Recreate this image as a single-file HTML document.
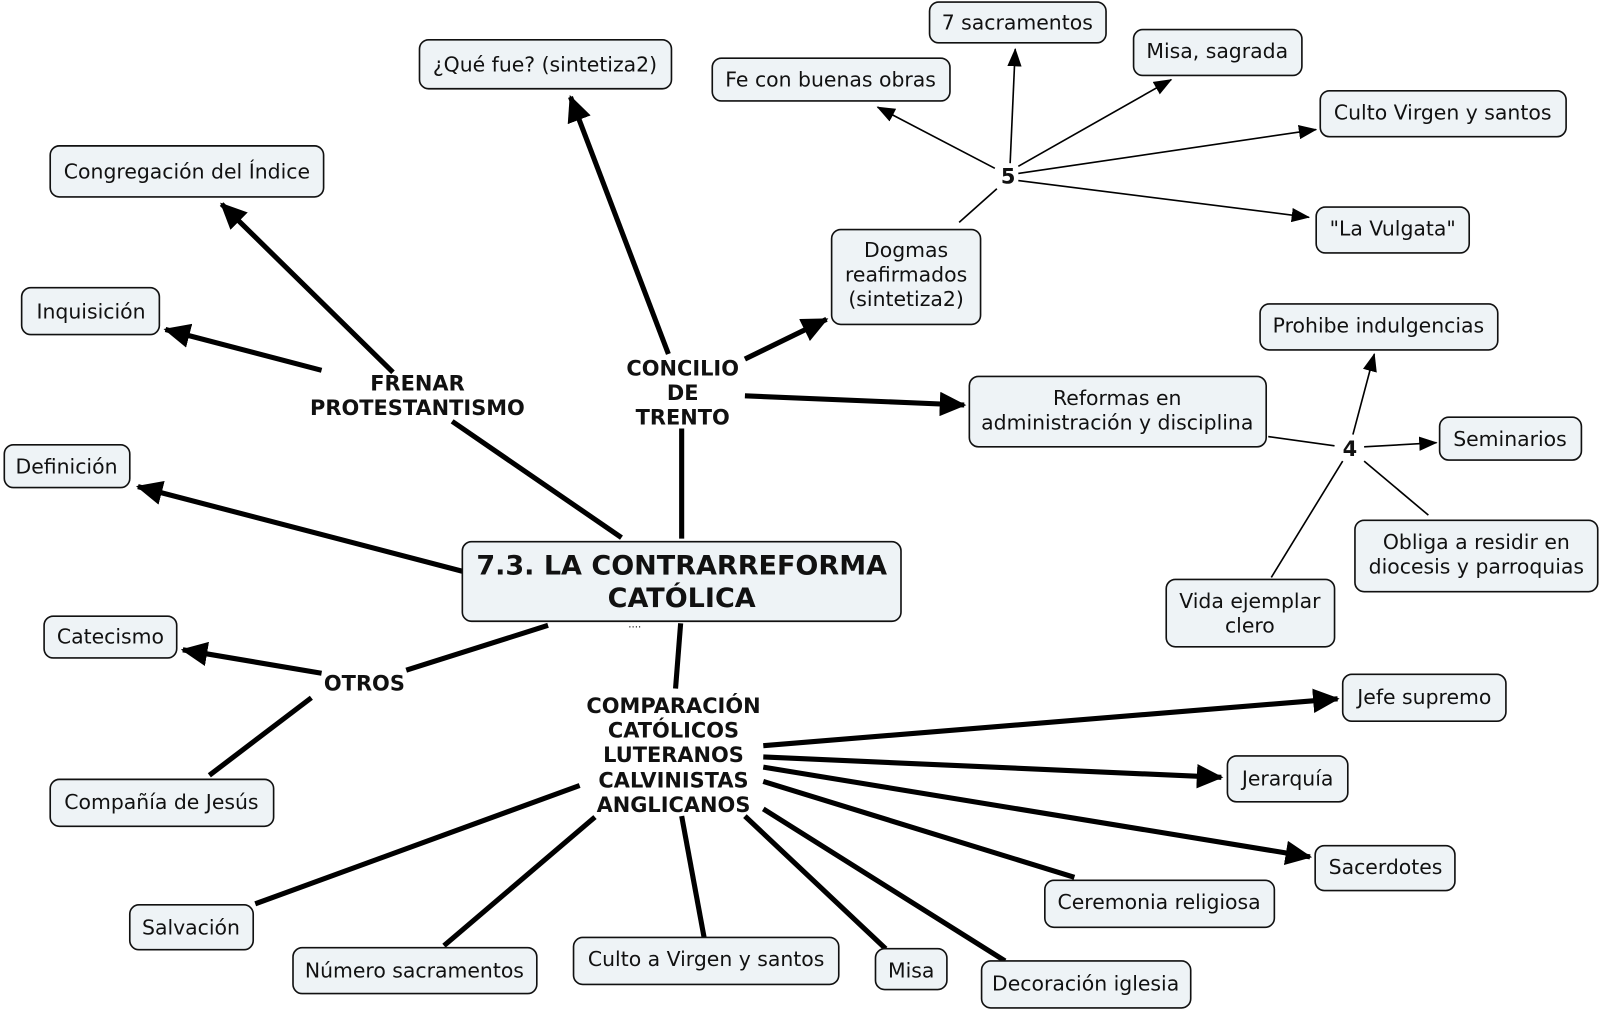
<!DOCTYPE html>
<html><head><meta charset="utf-8"><style>
html,body{margin:0;padding:0;background:#fff;}
svg{display:block;}
text{font-family:"DejaVu Sans","Liberation Sans",sans-serif;font-size:20px;fill:#111;}
.b{font-weight:bold;font-size:20.5px;}
rect{fill:#eef3f6;stroke:#111;stroke-width:1.6;}
.t{stroke:#000;stroke-width:5;fill:none;}
.n{stroke:#000;stroke-width:1.6;fill:none;}
</style></head><body>
<svg width="1600" height="1014" viewBox="0 0 1568 994" xmlns="http://www.w3.org/2000/svg">
<defs>
<marker id="A" markerUnits="userSpaceOnUse" markerWidth="26" markerHeight="24" refX="24" refY="12" orient="auto"><path d="M0,0 L26,12 L0,24 z" fill="#000"/></marker>
<marker id="a" markerUnits="userSpaceOnUse" markerWidth="18" markerHeight="14" refX="17" refY="7" orient="auto"><path d="M0,0 L18,7 L0,14 z" fill="#000"/></marker>
</defs>
<line class="t" x1="609" y1="527" x2="443" y2="413"/>
<line class="t" x1="385" y1="365" x2="217" y2="200" marker-end="url(#A)"/>
<line class="t" x1="315" y1="363" x2="162" y2="323" marker-end="url(#A)"/>
<line class="t" x1="453" y1="560" x2="135" y2="477" marker-end="url(#A)"/>
<line class="t" x1="668" y1="528" x2="668" y2="420"/>
<line class="t" x1="655" y1="347" x2="559" y2="95" marker-end="url(#A)"/>
<line class="t" x1="730" y1="352" x2="810" y2="313" marker-end="url(#A)"/>
<line class="t" x1="730" y1="388" x2="945" y2="397" marker-end="url(#A)"/>
<line class="t" x1="667" y1="611" x2="662" y2="675"/>
<line class="t" x1="537" y1="613" x2="398" y2="657"/>
<line class="t" x1="315" y1="660" x2="179" y2="637" marker-end="url(#A)"/>
<line class="t" x1="305" y1="684" x2="205" y2="760"/>
<line class="t" x1="748" y1="731" x2="1311" y2="685" marker-end="url(#A)"/>
<line class="t" x1="748" y1="742" x2="1197" y2="762" marker-end="url(#A)"/>
<line class="t" x1="748" y1="752" x2="1284" y2="840" marker-end="url(#A)"/>
<line class="t" x1="748" y1="766" x2="1053" y2="860"/>
<line class="t" x1="748" y1="793" x2="985" y2="942"/>
<line class="t" x1="730" y1="800" x2="868" y2="930"/>
<line class="t" x1="668" y1="800" x2="690" y2="919"/>
<line class="t" x1="583" y1="801" x2="435" y2="927"/>
<line class="t" x1="568" y1="770" x2="250" y2="886"/>
<line class="n" x1="940" y1="218" x2="977" y2="185"/>
<line class="n" x1="975" y1="165" x2="860" y2="105" marker-end="url(#a)"/>
<line class="n" x1="990" y1="160" x2="995" y2="48" marker-end="url(#a)"/>
<line class="n" x1="998" y1="163" x2="1148" y2="78" marker-end="url(#a)"/>
<line class="n" x1="998" y1="170" x2="1290" y2="127" marker-end="url(#a)"/>
<line class="n" x1="998" y1="177" x2="1283" y2="213" marker-end="url(#a)"/>
<line class="n" x1="1243" y1="428" x2="1308" y2="437"/>
<line class="n" x1="1337" y1="438" x2="1408" y2="434" marker-end="url(#a)"/>
<line class="n" x1="1326" y1="426" x2="1347" y2="347" marker-end="url(#a)"/>
<line class="n" x1="1337" y1="452" x2="1400" y2="505"/>
<line class="n" x1="1316" y1="452" x2="1246" y2="566"/>
<g>
<rect x="411" y="39" width="247" height="48" rx="9"/><text x="534" y="70" text-anchor="middle">¿Qué fue? (sintetiza2)</text>
<rect x="911" y="2" width="173" height="40" rx="9"/><text x="997" y="29" text-anchor="middle">7 sacramentos</text>
<rect x="1111" y="29" width="165" height="45" rx="9"/><text x="1193" y="57" text-anchor="middle">Misa, sagrada</text>
<rect x="698" y="57" width="233" height="42" rx="9"/><text x="814" y="85" text-anchor="middle">Fe con buenas obras</text>
<rect x="1294" y="89" width="241" height="45" rx="9"/><text x="1414" y="117" text-anchor="middle">Culto Virgen y santos</text>
<rect x="49" y="143" width="268" height="50" rx="9"/><text x="183" y="175" text-anchor="middle">Congregación del Índice</text>
<rect x="1290" y="203" width="150" height="45" rx="9"/><text x="1365" y="231" text-anchor="middle">"La Vulgata"</text>
<rect x="815" y="225" width="146" height="93" rx="9"/><text x="888" y="252" text-anchor="middle">Dogmas</text><text x="888" y="276" text-anchor="middle">reafirmados</text><text x="888" y="300" text-anchor="middle">(sintetiza2)</text>
<rect x="21" y="282" width="135" height="46" rx="9"/><text x="89" y="312" text-anchor="middle">Inquisición</text>
<rect x="1235" y="298" width="233" height="45" rx="9"/><text x="1351" y="326" text-anchor="middle">Prohibe indulgencias</text>
<rect x="950" y="369" width="291" height="69" rx="9"/><text x="1095" y="397" text-anchor="middle">Reformas en</text><text x="1095" y="421" text-anchor="middle">administración y disciplina</text>
<rect x="1411" y="409" width="139" height="42" rx="9"/><text x="1480" y="437" text-anchor="middle">Seminarios</text>
<rect x="4" y="436" width="123" height="42" rx="9"/><text x="65" y="464" text-anchor="middle">Definición</text>
<rect x="1328" y="510" width="238" height="70" rx="9"/><text x="1447" y="538" text-anchor="middle">Obliga a residir en</text><text x="1447" y="562" text-anchor="middle">diocesis y parroquias</text>
<rect x="453" y="531" width="430" height="78" rx="9"/><text class="b" x="668" y="563" text-anchor="middle" style="font-size:26.5px">7.3. LA CONTRARREFORMA</text><text class="b" x="668" y="595" text-anchor="middle" style="font-size:26.5px">CATÓLICA</text>
<text x="622" y="615" text-anchor="middle" style="font-size:10px">....</text>
<rect x="1143" y="568" width="165" height="66" rx="9"/><text x="1225" y="596" text-anchor="middle">Vida ejemplar</text><text x="1225" y="620" text-anchor="middle">clero</text>
<rect x="43" y="604" width="130" height="41" rx="9"/><text x="108" y="631" text-anchor="middle">Catecismo</text>
<rect x="1316" y="661" width="160" height="46" rx="9"/><text x="1396" y="690" text-anchor="middle">Jefe supremo</text>
<rect x="1203" y="741" width="118" height="45" rx="9"/><text x="1262" y="770" text-anchor="middle">Jerarquía</text>
<rect x="49" y="764" width="219" height="46" rx="9"/><text x="158" y="793" text-anchor="middle">Compañía de Jesús</text>
<rect x="1289" y="829" width="137" height="44" rx="9"/><text x="1358" y="857" text-anchor="middle">Sacerdotes</text>
<rect x="1024" y="863" width="225" height="46" rx="9"/><text x="1136" y="891" text-anchor="middle">Ceremonia religiosa</text>
<rect x="127" y="887" width="121" height="44" rx="9"/><text x="187" y="916" text-anchor="middle">Salvación</text>
<rect x="287" y="929" width="239" height="45" rx="9"/><text x="406" y="958" text-anchor="middle">Número sacramentos</text>
<rect x="562" y="919" width="260" height="46" rx="9"/><text x="692" y="947" text-anchor="middle">Culto a Virgen y santos</text>
<rect x="858" y="930" width="70" height="40" rx="9"/><text x="893" y="958" text-anchor="middle">Misa</text>
<rect x="962" y="942" width="205" height="46" rx="9"/><text x="1064" y="971" text-anchor="middle">Decoración iglesia</text>
</g>
<g>
<text class="b" x="409" y="383" text-anchor="middle">FRENAR</text>
<text class="b" x="409" y="407" text-anchor="middle">PROTESTANTISMO</text>
<text class="b" x="669" y="368" text-anchor="middle">CONCILIO</text>
<text class="b" x="669" y="392" text-anchor="middle">DE</text>
<text class="b" x="669" y="416" text-anchor="middle">TRENTO</text>
<text class="b" x="660" y="699" text-anchor="middle">COMPARACIÓN</text>
<text class="b" x="660" y="723" text-anchor="middle">CATÓLICOS</text>
<text class="b" x="660" y="747" text-anchor="middle">LUTERANOS</text>
<text class="b" x="660" y="772" text-anchor="middle">CALVINISTAS</text>
<text class="b" x="660" y="796" text-anchor="middle">ANGLICANOS</text>
<text class="b" x="357" y="677" text-anchor="middle">OTROS</text>
<text class="b" x="988" y="180" text-anchor="middle">5</text>
<text class="b" x="1323" y="447" text-anchor="middle">4</text>
</g>
</svg>
</body></html>
